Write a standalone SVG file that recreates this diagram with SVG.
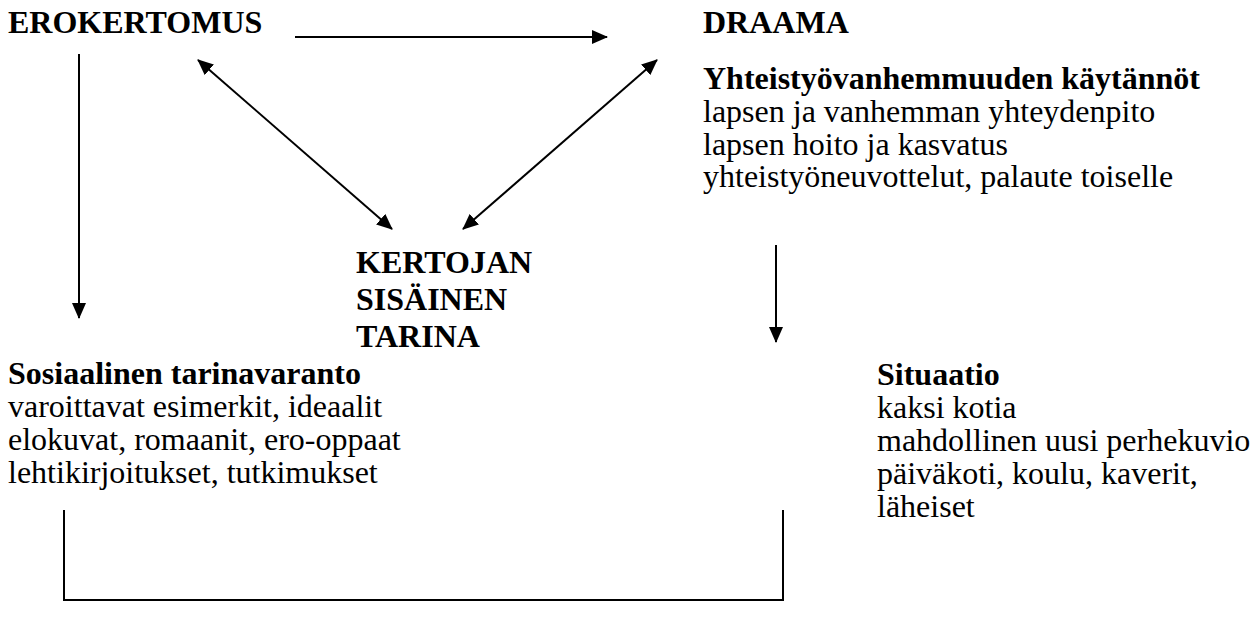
<svg xmlns="http://www.w3.org/2000/svg" width="1258" height="626" viewBox="0 0 1258 626">
<style>
text{font-family:"Liberation Serif","Times New Roman",serif;font-size:32px;fill:#000}
.b{font-weight:bold}
.c{stroke:#000;stroke-width:2;fill:none}
.a{marker-end:url(#ah)}
.d{marker-start:url(#ah);marker-end:url(#ah)}
</style>
<defs>
<marker id="ah" markerUnits="userSpaceOnUse" markerWidth="16" markerHeight="14" refX="15" refY="7" orient="auto-start-reverse" viewBox="0 0 16 14">
<path d="M0,0 L16,7 L0,14 z" fill="#000"/>
</marker>
</defs>
<rect width="1258" height="626" fill="#fff"/>
<g id="erokertomus"><text class="b" x="8" y="33">EROKERTOMUS</text></g>
<g id="draama"><text class="b" x="703" y="33">DRAAMA</text></g>
<g id="yhteistyo">
<text class="b" x="703" y="89">Yhteistyövanhemmuuden käytännöt</text>
<text x="703" y="122">lapsen ja vanhemman yhteydenpito</text>
<text x="703" y="155">lapsen hoito ja kasvatus</text>
<text x="703" y="187">yhteistyöneuvottelut, palaute toiselle</text>
</g>
<g id="kertojan">
<text class="b" x="356" y="273">KERTOJAN</text>
<text class="b" x="356" y="310">SISÄINEN</text>
<text class="b" x="356" y="347">TARINA</text>
</g>
<g id="sosiaalinen">
<text class="b" x="8" y="384">Sosiaalinen tarinavaranto</text>
<text x="8" y="417">varoittavat esimerkit, ideaalit</text>
<text x="8" y="450">elokuvat, romaanit, ero-oppaat</text>
<text x="8" y="483">lehtikirjoitukset, tutkimukset</text>
</g>
<g id="situaatio">
<text class="b" x="877" y="385">Situaatio</text>
<text x="877" y="418">kaksi kotia</text>
<text x="877" y="451">mahdollinen uusi perhekuvio</text>
<text x="877" y="484">päiväkoti, koulu, kaverit,</text>
<text x="877" y="517">läheiset</text>
</g>
<g id="connectors">
<line class="c a" x1="295" y1="37" x2="607" y2="37"/>
<line class="c a" x1="79" y1="54" x2="79" y2="318"/>
<line class="c a" x1="776" y1="245" x2="776" y2="342"/>
<line class="c d" x1="198" y1="60" x2="392" y2="229"/>
<line class="c d" x1="657" y1="60" x2="463" y2="229"/>
<polyline class="c" points="64,510 64,600 783,600 783,510"/>
</g>
</svg>
